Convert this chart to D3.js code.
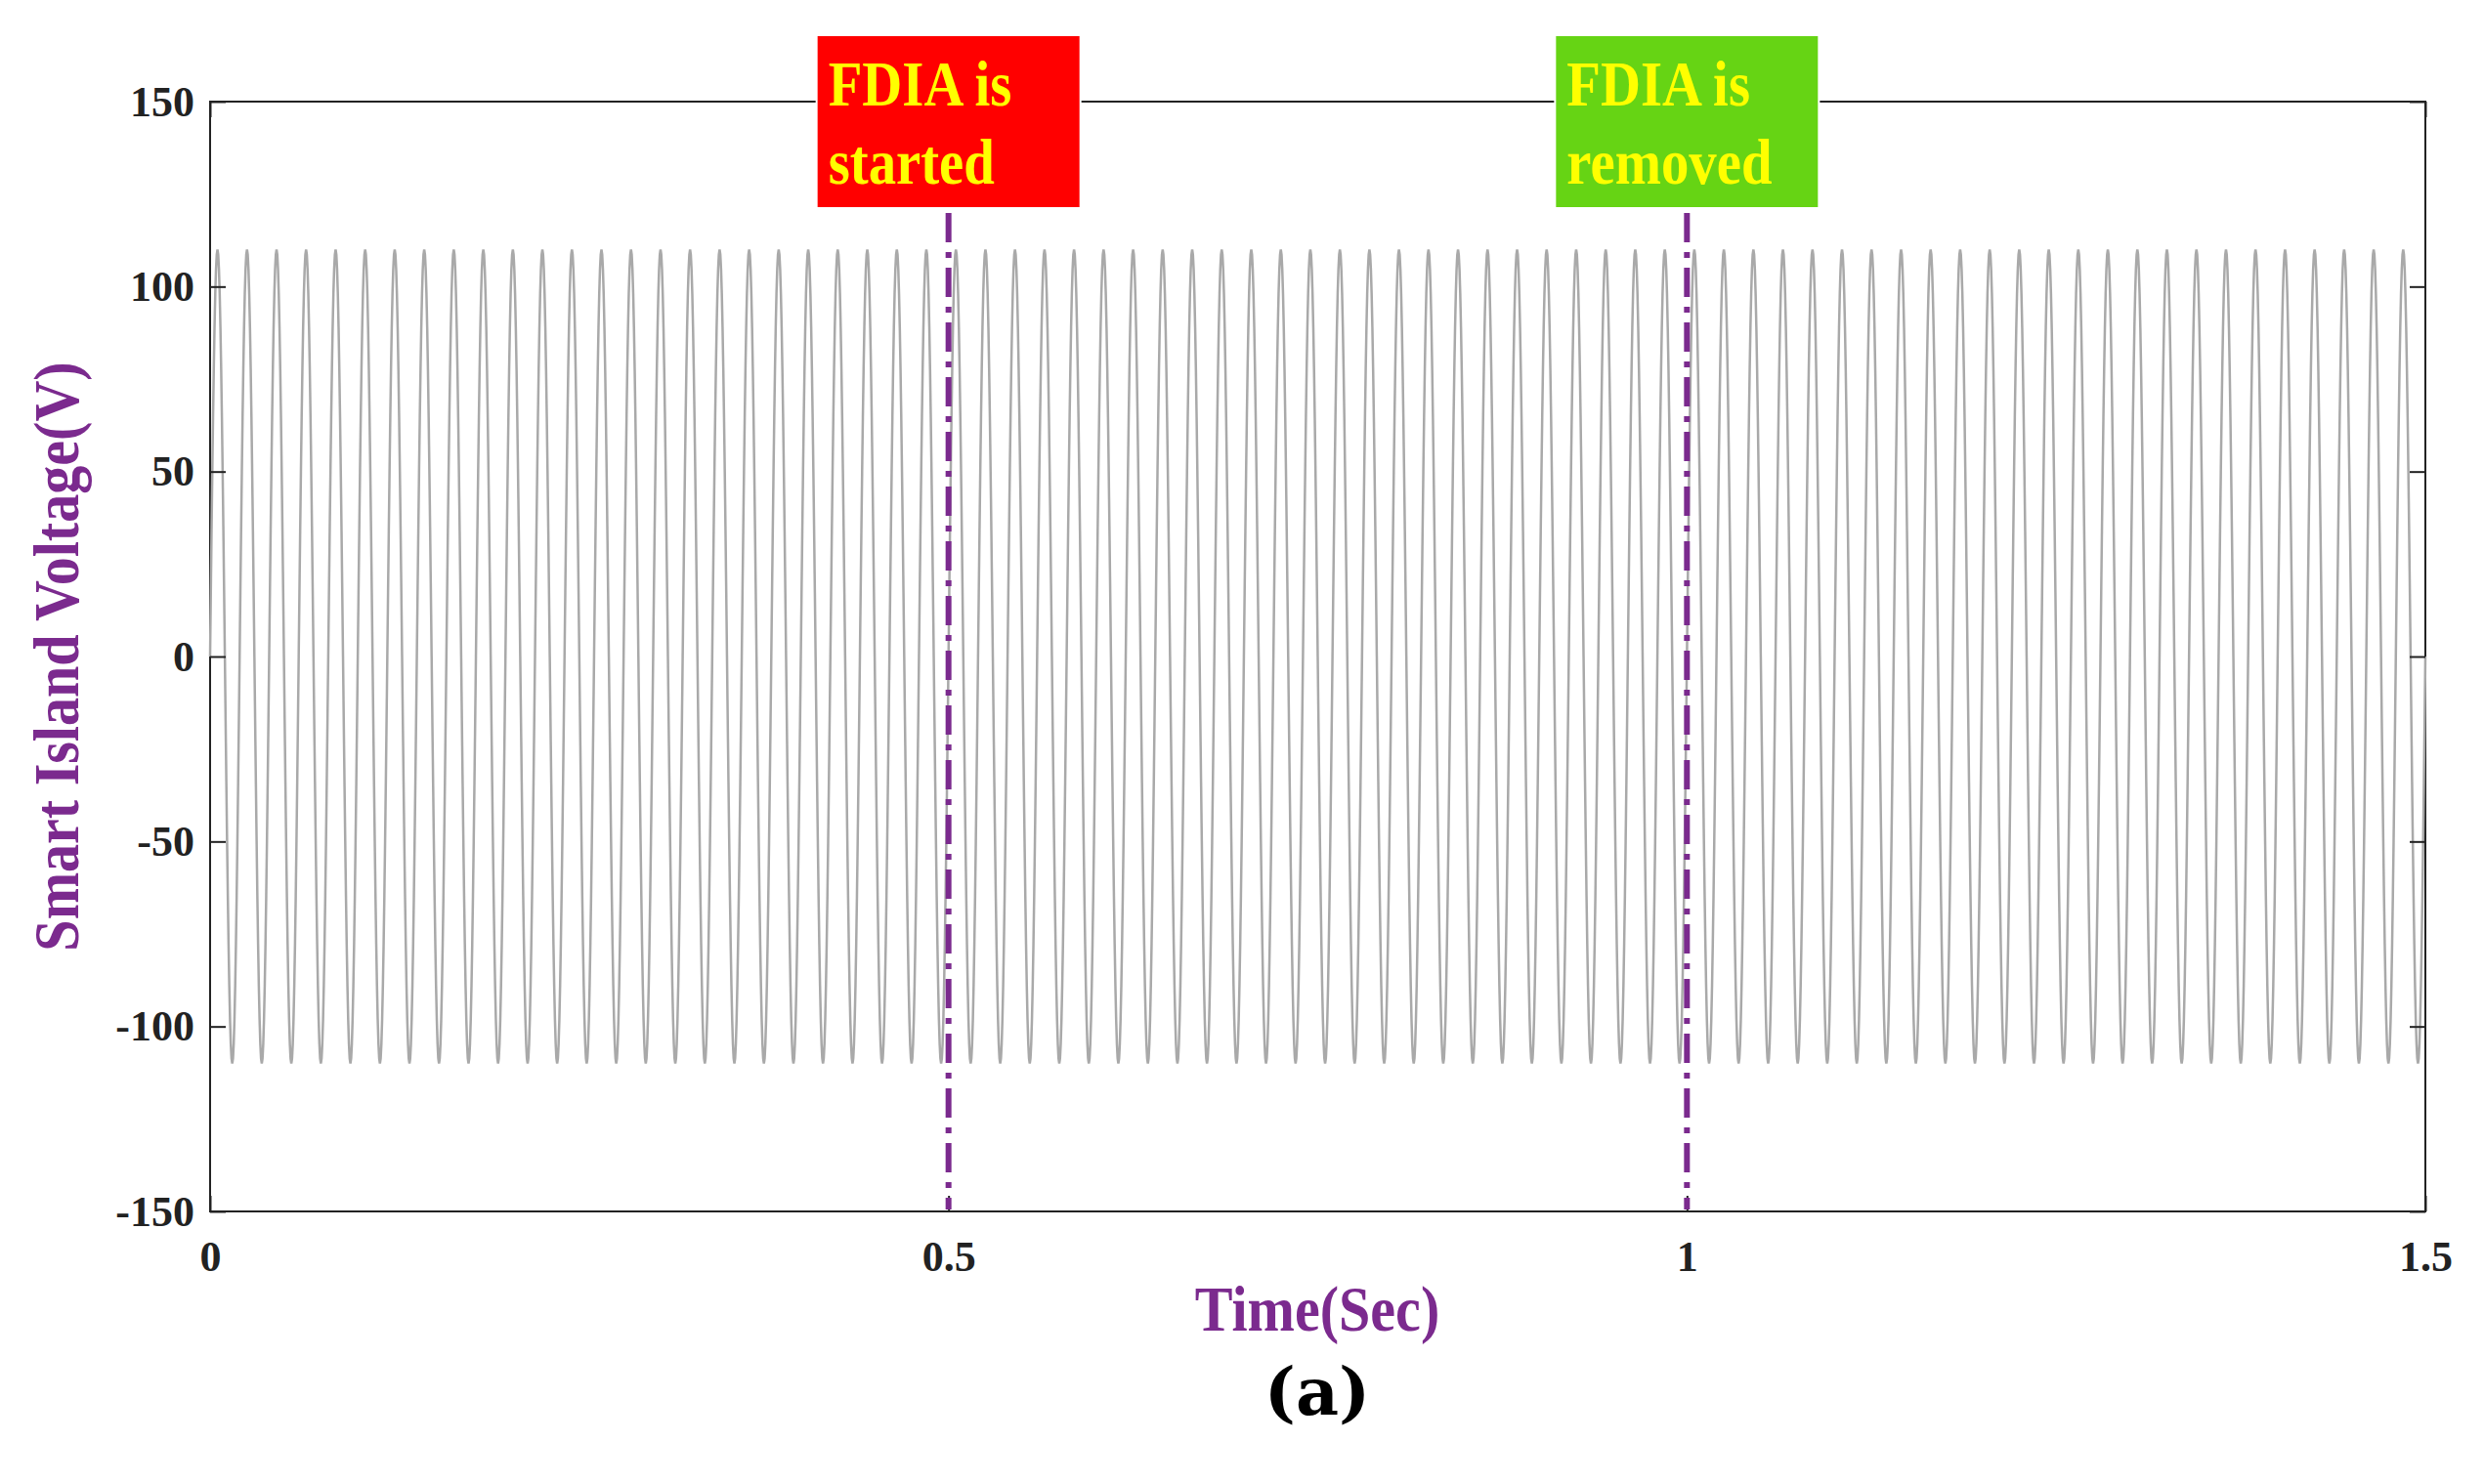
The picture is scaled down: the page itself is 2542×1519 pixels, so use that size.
<!DOCTYPE html>
<html><head><meta charset="utf-8">
<script src="https://cdn.jsdelivr.net/npm/d3@7"></script>
<style>body{margin:0;background:#fff}</style></head><body>
<svg id="c" width="2542" height="1519"></svg>
<script>
const xTicks=[0,0.5,1,1.5];
const yTicks=[-150,-100,-50,0,50,100,150];
const frequencyHz=50;
// per-cycle peak amplitude (V), 75 cycles over 1.5 s
const cycleAmplitude=Array(75).fill(110);
const events=[{t:0.5,label:["FDIA is","started"],color:"#ff0000"},{t:1.0,label:["FDIA is","removed"],color:"#66d414"}];

const svg=d3.select("#c");
const L=215,R=2482,T=104,B=1240;
const x=d3.scaleLinear().domain([0,1.5]).range([L,R]);
const y=d3.scaleLinear().domain([-150,150]).range([B,T]);
const pts=[];
const per=1/frequencyHz, n=40;
cycleAmplitude.forEach((a,c)=>{for(let i=0;i<n;i++){const t=c*per+i*per/n;pts.push([t,a*Math.sin(2*Math.PI*i/n)]);}});
pts.push([1.5,0]);
const ser="'Liberation Serif','Times New Roman',serif";
svg.append("rect").attr("x",L).attr("y",T).attr("width",R-L).attr("height",B-T).attr("fill","none").attr("stroke","#222").attr("stroke-width",2);
svg.append("path").datum(pts).attr("fill","none").attr("stroke","#a9a9a9").attr("stroke-width",2.5)
 .attr("d",d3.line().x(d=>x(d[0])).y(d=>y(d[1])));
const fmt=d=>String(d);
const ax=(g,axis)=>{g.call(axis);g.select(".domain").remove();g.selectAll("line").attr("stroke","#222").attr("stroke-width",2);g.selectAll("text").attr("font-family",ser).attr("font-weight","bold").attr("font-size",44).attr("fill","#222");};
svg.append("g").attr("transform",`translate(0,${B})`).call(g=>ax(g,d3.axisBottom(x).tickValues(xTicks).tickFormat(fmt).tickSizeInner(-16).tickPadding(30)));
svg.append("g").attr("transform",`translate(0,${T})`).call(g=>{ax(g,d3.axisTop(x).tickValues(xTicks).tickSizeInner(-16).tickFormat(""));});
svg.append("g").attr("transform",`translate(${L},0)`).call(g=>ax(g,d3.axisLeft(y).tickValues(yTicks).tickFormat(fmt).tickSizeInner(-16).tickPadding(16)));
svg.append("g").attr("transform",`translate(${R},0)`).call(g=>ax(g,d3.axisRight(y).tickValues(yTicks).tickSizeInner(-16).tickFormat("")));
events.forEach(e=>{
  const cx=x(e.t);
  svg.append("line").attr("x1",cx).attr("x2",cx).attr("y1",218).attr("y2",B-2).attr("stroke","#7b2a8e").attr("stroke-width",6).attr("stroke-dasharray","30,10,6,10");
  const bx=cx-135, bw=270;
  svg.append("rect").attr("x",bx).attr("y",36).attr("width",bw).attr("height",177).attr("fill",e.color).attr("stroke","#fff").attr("stroke-width",2);
  e.label.forEach((s,i)=>svg.append("text").attr("transform",`translate(${bx+12},${108+i*80}) scale(0.86,1)`).text(s).attr("font-family",ser).attr("font-weight","bold").attr("font-size",66).attr("fill","#ffff00"));
});
svg.append("text").attr("transform","translate(1348,1362) scale(0.88,1)").attr("text-anchor","middle").text("Time(Sec)").attr("font-family",ser).attr("font-weight","bold").attr("font-size",66).attr("fill","#7b2a8e");
svg.append("text").attr("transform","translate(80,672) rotate(-90) scale(0.88,1)").attr("text-anchor","middle").text("Smart Island Voltage(V)").attr("font-family",ser).attr("font-weight","bold").attr("font-size",66).attr("fill","#7b2a8e");
svg.append("text").attr("x",1348).attr("y",1448).attr("text-anchor","middle").text("(a)").attr("font-family","'DejaVu Serif',serif").attr("font-weight","bold").attr("font-size",68).attr("fill","#000");
</script></body></html>
